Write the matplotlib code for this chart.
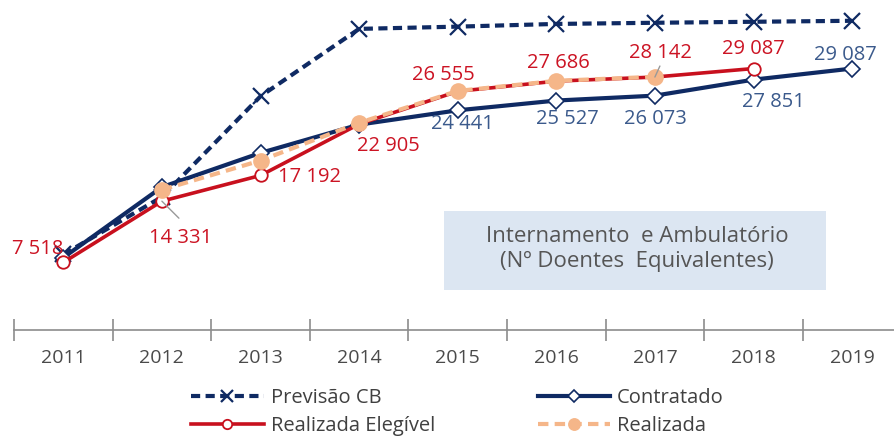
import matplotlib.pyplot as plt
from matplotlib.patches import Rectangle

years = ["2011", "2012", "2013", "2014", "2015", "2016", "2017", "2018", "2019"]

previsao_cb = [8400, 14800, 26000, 33500, 33750, 34050, 34180, 34290, 34400]
contratado = [8050, 15900, 19700, 22850, 24441, 25527, 26073, 27851, 29087]
realizada_eleg = [7518, 14331, 17192, 22905, 26555, 27686, 28142, 29087]
realizada = [15600, 18850, 23050, 26600, 27720, 28170]

red_labels = ["7 518", "14 331", "17 192", "22 905", "26 555", "27 686", "28 142", "29 087"]
blue_labels = ["24 441", "25 527", "26 073", "27 851", "29 087"]

NAVY = "#0f2a63"
RED = "#c8101e"
ORANGE = "#f5b689"
RED_TXT = "#cc1424"
BLUE_TXT = "#3b5a8c"
GREY = "#555555"

plt.rcParams["font.family"] = ["Open Sans", "DejaVu Sans"]

fig = plt.figure(figsize=(8.95, 4.37), dpi=100)
ax = fig.add_axes([14 / 895, (437 - 330) / 437, 881 / 895, 320 / 437])

x = list(range(len(years)))
l1, = ax.plot(x, previsao_cb, color=NAVY, lw=3, ls=(0, (2.2, 1.3)), marker="x",
              ms=12, mew=1.6, label="Previsão CB", zorder=2)
l2, = ax.plot(x, contratado, color=NAVY, lw=3, marker="D", ms=8, mfc="white",
              mec=NAVY, mew=1.2, label="Contratado", zorder=3)
l3, = ax.plot(x[:len(realizada_eleg)], realizada_eleg, color=RED, lw=2.6, marker="o",
              ms=9, mfc="white", mec=RED, mew=1.3, label="Realizada Elegível", zorder=4)
l4, = ax.plot(x[1:1 + len(realizada)], realizada, color=ORANGE, lw=3, ls=(0, (2.5, 1.5)),
              marker="o", ms=11, mfc=ORANGE, mec=ORANGE, label="Realizada", zorder=5)

red_off = [(-26, 13), (19, -37), (49, -2), (29, -22), (-14, 16), (2, 18), (6, 24), (0, 20)]
for i, (t, off) in enumerate(zip(red_labels, red_off)):
    ax.annotate(t, (i, realizada_eleg[i]), xytext=off, textcoords="offset pixels",
                ha="center", va="center", color=RED_TXT, fontsize=14.5, zorder=6)
# leader lines
for i, tip in [(1, (17, -17)), (6, (5, 11))]:
    ax.annotate("", (i, realizada_eleg[i]), xytext=tip, textcoords="offset pixels",
                arrowprops=dict(arrowstyle="-", color="#999999", lw=1,
                                shrinkA=0, shrinkB=0), zorder=6)

blue_off = [(5, -14), (11, -18), (1, -23), (20, -22), (-7, 14)]
for j, (t, off) in enumerate(zip(blue_labels, blue_off)):
    i = 4 + j
    ax.annotate(t, (i, contratado[i]), xytext=off, textcoords="offset pixels",
                ha="center", va="center", color=BLUE_TXT, fontsize=14.5, zorder=6)

ax.set_xlim(-0.5, 8.435)
ax.set_ylim(0, 35600)
for s in ["top", "right", "left"]:
    ax.spines[s].set_visible(False)
ax.spines["bottom"].set_color("#8c8c8c")
ax.spines["bottom"].set_linewidth(1.2)
ax.set_yticks([])
ax.set_xticks([i - 0.5 for i in range(len(years))])
ax.set_xticklabels([])
ax.set_xticks(x, minor=True)
ax.set_xticklabels(years, minor=True)
ax.tick_params(axis="x", which="major", direction="inout", length=16, width=1.2, color="#8c8c8c")
ax.tick_params(axis="x", which="minor", length=0, pad=14, labelsize=14, labelcolor="#4a4a4a")

# title box
fig.patches.append(Rectangle((444 / 895, (437 - 290) / 437), 382 / 895, 79 / 437,
                             transform=fig.transFigure, facecolor="#dce6f2",
                             edgecolor="none", zorder=0))
fig.text(637 / 895, (437 - 249) / 437, "Internamento  e Ambulatório\n(Nº Doentes  Equivalentes)",
         ha="center", va="center", fontsize=16, color=GREY, linespacing=1.2)

fig.legend([l1, l3, l2, l4], ["Previsão CB", "Realizada Elegível", "Contratado", "Realizada"],
           ncol=2, loc="center left", bbox_to_anchor=(173 / 895, (437 - 412) / 437),
           frameon=False, fontsize=14.5, handlelength=3.6, handletextpad=0.35,
           columnspacing=5.1, labelspacing=0.4, numpoints=1, markerscale=0.75,
           labelcolor="#404040")

fig.savefig("out.png", dpi=100)
